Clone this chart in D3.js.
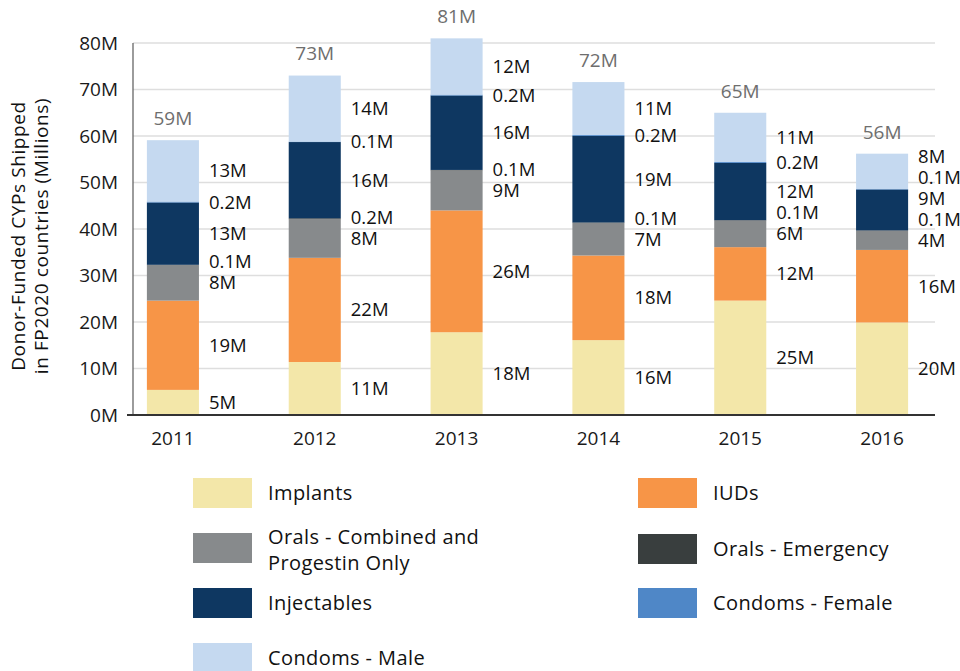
<!DOCTYPE html>
<html>
<head>
<meta charset="utf-8">
<script src="https://cdn.jsdelivr.net/npm/d3@7"></script>
<style>
  body { margin: 0; background: #fff; }
  svg { display: block; font-family: "Open Sans", Roboto, sans-serif; }
</style>
</head>
<body>
<div id="root"></div>
<script>
const years = ["2011", "2012", "2013", "2014", "2015", "2016"];
const methods = [
  "Implants",
  "IUDs",
  "Orals - Combined and Progestin Only",
  "Orals - Emergency",
  "Injectables",
  "Condoms - Female",
  "Condoms - Male",
];
// millions of CYPs
const implants = [5.4, 11.4, 17.8, 16.1, 24.6, 19.9];
const iuds = [19.2, 22.4, 26.2, 18.2, 11.5, 15.6];
const oralsCombined = [7.6, 8.3, 8.6, 7.0, 5.7, 4.1];
const oralsEmergency = [0.1, 0.2, 0.1, 0.1, 0.1, 0.1];
const injectables = [13.4, 16.4, 16.0, 18.6, 12.3, 8.8];
const condomsFemale = [0.2, 0.1, 0.2, 0.2, 0.2, 0.1];
const condomsMale = [13.2, 14.2, 12.1, 11.4, 10.6, 7.6];
const yTicks = [0, 10, 20, 30, 40, 50, 60, 70, 80];

const colors = ["#f3e7a9", "#f79547", "#878a8c", "#393e3e", "#0e3761", "#4f87c7", "#c5d9f0"];
const seriesValues = [implants, iuds, oralsCombined, oralsEmergency, injectables, condomsFemale, condomsMale];

const table = years.map((year, i) => {
  const row = { year };
  methods.forEach((m, j) => (row[m] = seriesValues[j][i]));
  return row;
});

const width = 960;
const height = 671;
const plot = { left: 133, right: 935, top: 43, bottom: 415 };
const fontSize = 19;
const labelGap = 21;

const svg = d3
  .select("#root")
  .append("svg")
  .attr("width", width)
  .attr("height", height)
  .attr("viewBox", `0 0 ${width} ${height}`);

const yScale = d3.scaleLinear().domain([0, 80]).range([plot.bottom, plot.top]);
const xScale = d3
  .scaleBand()
  .domain(years)
  .range([102, 953])
  .paddingInner(0.633)
  .paddingOuter(0.3165);
const color = d3.scaleOrdinal().domain(methods).range(colors);

const stacked = d3.stack().keys(methods)(table);

// gridlines
svg
  .append("g")
  .selectAll("line")
  .data(yTicks.slice(1))
  .join("line")
  .attr("x1", plot.left)
  .attr("x2", plot.right)
  .attr("y1", (d) => yScale(d))
  .attr("y2", (d) => yScale(d))
  .attr("stroke", "#dedede")
  .attr("stroke-width", 1.5);

// y tick labels
svg
  .append("g")
  .selectAll("text")
  .data(yTicks)
  .join("text")
  .text((d) => d + "M")
  .attr("x", 118)
  .attr("y", (d) => yScale(d))
  .attr("dy", "0.36em")
  .attr("text-anchor", "end")
  .attr("fill", "#1a1a1a")
  .attr("font-size", fontSize);

// bars
svg
  .append("g")
  .selectAll("g")
  .data(stacked)
  .join("g")
  .attr("fill", (d) => color(d.key))
  .selectAll("rect")
  .data((d) => d)
  .join("rect")
  .attr("x", (d) => xScale(d.data.year))
  .attr("y", (d) => yScale(d[1]))
  .attr("width", xScale.bandwidth())
  .attr("height", (d) => yScale(d[0]) - yScale(d[1]));

// axis lines
svg
  .append("line")
  .attr("x1", plot.left)
  .attr("x2", plot.left)
  .attr("y1", plot.top)
  .attr("y2", plot.bottom)
  .attr("stroke", "#666")
  .attr("stroke-width", 1.3);
svg
  .append("line")
  .attr("x1", 127)
  .attr("x2", plot.right)
  .attr("y1", plot.bottom)
  .attr("y2", plot.bottom)
  .attr("stroke", "#333")
  .attr("stroke-width", 2);

// year labels
svg
  .append("g")
  .selectAll("text")
  .data(years)
  .join("text")
  .text((d) => d)
  .attr("x", (d) => xScale(d) + xScale.bandwidth() / 2)
  .attr("y", 438)
  .attr("dy", "0.36em")
  .attr("text-anchor", "middle")
  .attr("fill", "#1a1a1a")
  .attr("font-size", fontSize);

// segment labels, pushed up when they crowd each other
const fmt = (v) => (v < 1 ? v.toFixed(1) : Math.round(v)) + "M";
const segLabels = [];
years.forEach((year, i) => {
  let prev = Infinity;
  stacked.forEach((s) => {
    const seg = s[i];
    let y = (yScale(seg[0]) + yScale(seg[1])) / 2;
    y = Math.min(y, prev - labelGap);
    prev = y;
    segLabels.push({ year, y, text: fmt(seg[1] - seg[0]) });
  });
});

svg
  .append("g")
  .selectAll("text")
  .data(segLabels)
  .join("text")
  .text((d) => d.text)
  .attr("x", (d) => xScale(d.year) + xScale.bandwidth() + 10)
  .attr("y", (d) => d.y)
  .attr("dy", "0.35em")
  .attr("fill", "#111")
  .attr("font-size", 18.5);

// totals
svg
  .append("g")
  .selectAll("text")
  .data(table)
  .join("text")
  .text((d) => Math.round(d3.sum(methods, (m) => d[m])) + "M")
  .attr("x", (d) => xScale(d.year) + xScale.bandwidth() / 2)
  .attr("y", (d) => yScale(d3.sum(methods, (m) => d[m])) - 22)
  .attr("dy", "0.36em")
  .attr("text-anchor", "middle")
  .attr("fill", "#6e6e6e")
  .attr("font-size", fontSize);

// y axis title
svg
  .append("text")
  .attr("transform", "translate(18, 236) rotate(-90)")
  .attr("text-anchor", "middle")
  .attr("fill", "#111")
  .attr("font-size", 19)
  .attr("letter-spacing", 0.6)
  .selectAll("tspan")
  .data(["Donor-Funded CYPs Shipped", "in FP2020 countries (Millions)"])
  .join("tspan")
  .attr("x", 0)
  .attr("dy", (d, i) => (i === 0 ? "0.36em" : "1.2em"))
  .text((d) => d);

// legend
const legendRows = [
  { key: methods[0], col: 0, y: 493, lines: ["Implants"] },
  { key: methods[1], col: 1, y: 493, lines: ["IUDs"] },
  { key: methods[2], col: 0, y: 548, lines: ["Orals - Combined and", "Progestin Only"] },
  { key: methods[3], col: 1, y: 549, lines: ["Orals - Emergency"] },
  { key: methods[4], col: 0, y: 603, lines: ["Injectables"] },
  { key: methods[5], col: 1, y: 603, lines: ["Condoms - Female"] },
  { key: methods[6], col: 0, y: 658, lines: ["Condoms - Male"] },
];
const colX = [193, 638];

const legend = svg
  .append("g")
  .selectAll("g")
  .data(legendRows)
  .join("g")
  .attr("transform", (d) => `translate(${colX[d.col]}, ${d.y})`);

legend
  .append("rect")
  .attr("x", 0)
  .attr("y", -15)
  .attr("width", 59)
  .attr("height", 30)
  .attr("fill", (d) => color(d.key));

legend
  .append("text")
  .attr("x", 75)
  .attr("fill", "#111")
  .attr("font-size", 20)
  .attr("letter-spacing", 0.4)
  .selectAll("tspan")
  .data((d) => d.lines.map((t, i) => ({ t, i, n: d.lines.length })))
  .join("tspan")
  .attr("x", 75)
  .attr("y", (d) => (d.n === 1 ? 0 : d.i === 0 ? -11 : 15))
  .attr("dy", "0.36em")
  .text((d) => d.t);
</script>
</body>
</html>
